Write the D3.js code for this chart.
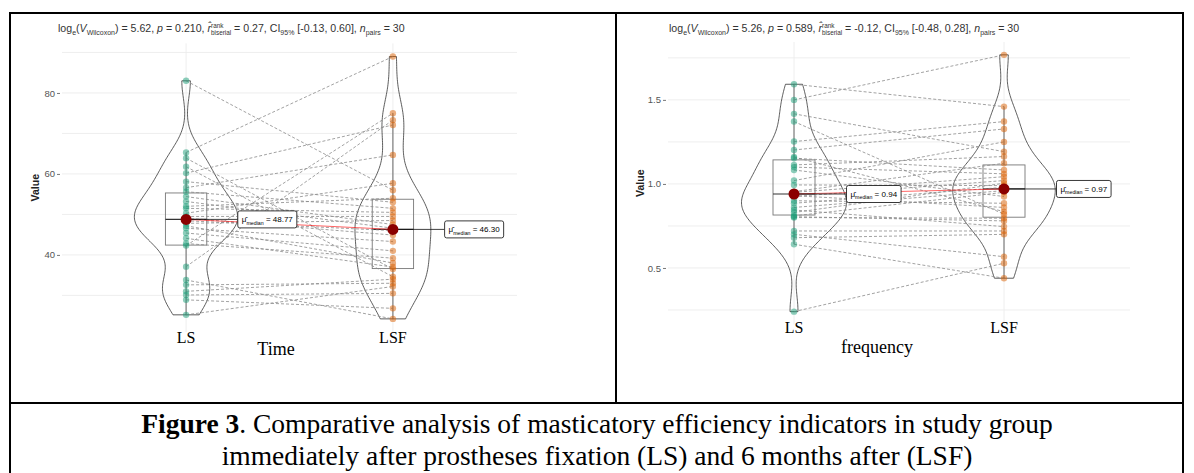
<!DOCTYPE html>
<html>
<head>
<meta charset="utf-8">
<title>Figure 3 - paired violin plots</title>
<style>
  body { margin: 0; background: #fff; }
  svg text { font-family: "Liberation Sans", Arial, sans-serif; white-space: pre; }
  svg text.serif { font-family: "Liberation Serif", "Times New Roman", serif; }
</style>
</head>
<body>
<svg width="1194" height="473"></svg>
<script src="https://d3js.org/d3.v7.min.js"></script>
<script>

// categories
var groups = ["LS", "LSF"];

// Time panel, paired values (same subject order in both arrays)
var timeLS  = [83.0, 65.3, 63.9, 61.8, 60.2, 58.1, 56.6, 55.6, 54.4, 53.2,
               52.0, 51.5, 50.3, 49.5, 49.1, 48.44, 47.8, 47.2, 46.6, 45.4,
               44.1, 42.8, 42.3, 37.1, 33.8, 32.6, 31.0, 30.1, 28.9, 25.2];
var timeLSF = [56.0, 89.0, 36.5, 34.6, 72.1, 53.0, 64.7, 51.5, 47.5, 46.6,
               54.0, 50.5, 57.7, 49.5, 44.9, 46.0, 48.5, 38.0, 43.3, 41.0,
               37.0, 39.2, 75.0, 73.3, 24.2, 33.0, 34.0, 30.5, 26.8, 32.2];

// frequency panel, paired values
var freqLS  = [1.593, 1.50, 1.417, 1.371, 1.252, 1.202, 1.16, 1.153, 1.113, 1.10,
               1.083, 1.02, 0.994, 0.954, 0.95, 0.93, 0.925, 0.90, 0.885, 0.86,
               0.845, 0.83, 0.81, 0.805, 0.80, 0.72, 0.70, 0.68, 0.641, 0.24];
var freqLSF = [1.46, 1.768, 1.192, 0.82, 1.371, 1.327, 0.835, 1.083, 1.163, 1.06,
               0.925, 1.25, 0.99, 1.123, 1.043, 0.86, 1.02, 0.885, 0.98, 0.96,
               0.746, 1.004, 0.95, 0.78, 0.796, 0.72, 0.567, 0.70, 0.439, 0.528];

// tick labels
var timeTicks = [40, 60, 80];
var freqTicks = [0.5, 1.0, 1.5];

// median labels and test statistics printed in the subtitles
var timeMedianLabels = ["48.77", "46.30"];
var freqMedianLabels = ["0.94", "0.97"];
var timeStats = ["5.62", "0.210", "0.27", "[-0.13, 0.60]", "30"];
var freqStats = ["5.26", "0.589", "-0.12", "[-0.48, 0.28]", "30"];
var xTitles = ["Time", "frequency"];

var colors = ["#1B9E77", "#D95F02"];

var svg = d3.select("svg");
svg.append("rect").attr("width", 1194).attr("height", 473).attr("fill", "#fff");

// write a line of text made of pieces (italic, subscript, stacked sup/sub)
function rich(parent, x, y, pieces, fs) {
  var cx = x;
  pieces.forEach(function(pc) {
    if (pc.stack) {
      var a = parent.append("text").attr("x", cx).attr("y", y - fs * 0.42)
        .attr("font-size", fs * 0.6).text(pc.stack[0]);
      var b = parent.append("text").attr("x", cx).attr("y", y + fs * 0.3)
        .attr("font-size", fs * 0.6).text(pc.stack[1]);
      cx += Math.max(a.node().getComputedTextLength(), b.node().getComputedTextLength());
      return;
    }
    var t = parent.append("text")
      .attr("x", cx)
      .attr("y", y + (pc.sub ? fs * 0.3 : 0))
      .attr("font-size", pc.sub ? fs * 0.66 : fs)
      .attr("font-style", pc.it ? "italic" : null)
      .text(pc.t);
    cx += t.node().getComputedTextLength();
  });
  return cx - x;
}

function violinData(vals) {
  var s = vals.slice().sort(d3.ascending);
  var n = s.length;
  var sd = d3.deviation(s);
  var iqr = d3.quantile(s, 0.75) - d3.quantile(s, 0.25);
  var bw = 0.9 * Math.min(sd, iqr / 1.34) * Math.pow(n, -0.2);
  var lo = s[0], hi = s[n - 1];
  return d3.range(160).map(function(i) {
    var v = lo + (hi - lo) * i / 159;
    var dens = d3.mean(s, function(d) { var u = (v - d) / bw; return Math.exp(-0.5 * u * u); })
      / (bw * Math.sqrt(2 * Math.PI));
    return {v: v, d: dens};
  });
}

var panels = [
  {ls: timeLS, lsf: timeLSF, ticks: timeTicks, minor: 10, fmt: d3.format("d"),
   labels: timeMedianLabels, stats: timeStats, xTitle: xTitles[0],
   x0: 62, x1: 517, top: 43.4, bottom: 332, subX: 58, yTitleX: 39,
   tickY: 343, titleY: 355, titleX: 276},
  {ls: freqLS, lsf: freqLSF, ticks: freqTicks, minor: 0.25, fmt: d3.format(".1f"),
   labels: freqMedianLabels, stats: freqStats, xTitle: xTitles[1],
   x0: 668, x1: 1130, top: 42, bottom: 324.5, subX: 669, yTitleX: 644,
   tickY: 333, titleY: 353, titleX: 877}
];

panels.forEach(function(p) {
  var g = svg.append("g");
  var all = p.ls.concat(p.lsf);
  var ext = d3.extent(all);
  var pad = (ext[1] - ext[0]) * 0.05;
  var y = d3.scaleLinear().domain([ext[0] - pad, ext[1] + pad]).range([p.bottom, p.top]);
  var x = d3.scalePoint().domain(groups).range([p.x0, p.x1]).padding(0.6);
  var step = x.step();
  var series = [p.ls, p.lsf];

  // grid
  var minors = d3.range(Math.ceil(y.domain()[0] / p.minor) * p.minor, y.domain()[1], p.minor);
  g.selectAll(".gy").data(minors).enter().append("line")
    .attr("x1", p.x0).attr("x2", p.x1)
    .attr("y1", function(d) { return y(d); }).attr("y2", function(d) { return y(d); })
    .attr("stroke", "#ececec").attr("stroke-width", 0.9);
  g.selectAll(".gx").data(groups).enter().append("line")
    .attr("x1", function(d) { return x(d); }).attr("x2", function(d) { return x(d); })
    .attr("y1", p.top).attr("y2", p.bottom)
    .attr("stroke", "#ececec").attr("stroke-width", 0.9);

  // y axis
  var ax = g.append("g").attr("transform", "translate(" + (p.x0 - 2) + ",0)")
    .call(d3.axisLeft(y).tickValues(p.ticks).tickFormat(p.fmt).tickSize(3).tickPadding(2));
  ax.select(".domain").remove();
  ax.selectAll("line").attr("stroke", "#777");
  ax.selectAll("text").attr("font-size", 9.5).attr("fill", "#555");

  g.append("text")
    .attr("transform", "translate(" + p.yTitleX + "," + ((p.top + p.bottom) / 2) + ") rotate(-90)")
    .attr("text-anchor", "middle").attr("font-size", 10.5).attr("font-weight", "bold")
    .attr("fill", "#222").text("Value");

  // violins (area scaled, width 0.5)
  var vd = series.map(violinData);
  var maxD = d3.max(vd, function(a) { return d3.max(a, function(d) { return d.d; }); });
  vd.forEach(function(a, i) {
    var cx = x(groups[i]);
    var area = d3.area()
      .y(function(d) { return y(d.v); })
      .x0(function(d) { return cx - d.d / maxD * 0.25 * step; })
      .x1(function(d) { return cx + d.d / maxD * 0.25 * step; });
    g.append("path").attr("d", area(a)).attr("fill", "none")
      .attr("stroke", "#333").attr("stroke-width", 0.8);
  });

  // boxes
  series.forEach(function(vals, i) {
    var s = vals.slice().sort(d3.ascending);
    var q1 = d3.quantile(s, 0.25), q3 = d3.quantile(s, 0.75), med = d3.median(s);
    var iqr = q3 - q1;
    var hiW = d3.max(s.filter(function(v) { return v <= q3 + 1.5 * iqr; }));
    var loW = d3.min(s.filter(function(v) { return v >= q1 - 1.5 * iqr; }));
    var cx = x(groups[i]), hw = 0.1 * step;
    g.append("line").attr("x1", cx).attr("x2", cx).attr("y1", y(q3)).attr("y2", y(hiW))
      .attr("stroke", "#555").attr("stroke-width", 0.9);
    g.append("line").attr("x1", cx).attr("x2", cx).attr("y1", y(q1)).attr("y2", y(loW))
      .attr("stroke", "#555").attr("stroke-width", 0.9);
    g.append("rect").attr("x", cx - hw).attr("width", 2 * hw)
      .attr("y", y(q3)).attr("height", y(q1) - y(q3))
      .attr("fill", "none").attr("stroke", "#777").attr("stroke-width", 0.9);
    g.append("line").attr("x1", cx - hw).attr("x2", cx + hw).attr("y1", y(med)).attr("y2", y(med))
      .attr("stroke", "#333").attr("stroke-width", 1.2);
  });

  // paired lines
  g.selectAll(".pair").data(d3.range(p.ls.length)).enter().append("line")
    .attr("x1", x(groups[0])).attr("x2", x(groups[1]))
    .attr("y1", function(i) { return y(p.ls[i]); })
    .attr("y2", function(i) { return y(p.lsf[i]); })
    .attr("stroke", "#8a8a8a").attr("stroke-width", 0.8).attr("stroke-dasharray", "3,2");

  // points
  series.forEach(function(vals, i) {
    g.selectAll(".pt" + i).data(vals).enter().append("circle")
      .attr("cx", x(groups[i])).attr("cy", function(d) { return y(d); })
      .attr("r", 3.2).attr("fill", colors[i]).attr("fill-opacity", 0.5);
  });

  // median line between groups
  var meds = series.map(function(v) { return d3.median(v); });
  g.append("line").attr("x1", x(groups[0])).attr("x2", x(groups[1]))
    .attr("y1", y(meds[0])).attr("y2", y(meds[1]))
    .attr("stroke", "red").attr("stroke-opacity", 0.6).attr("stroke-width", 1);

  // label segments, centrality points and labels
  meds.forEach(function(m, i) {
    var cx = x(groups[i]), lx = cx + 0.25 * step, cy = y(m);
    g.append("line").attr("x1", cx).attr("x2", lx).attr("y1", cy).attr("y2", cy)
      .attr("stroke", "#111").attr("stroke-width", 0.8);
    g.append("circle").attr("cx", cx).attr("cy", cy).attr("r", 5.5).attr("fill", "#8B0000");
    var lg = g.append("g");
    var box = lg.append("rect");
    var w = rich(lg, lx + 4, cy + 3, [
      {t: "\u03BC\u0302"}, {t: "median", sub: 1}, {t: " = " + p.labels[i]}
    ], 8);
    box.attr("x", lx).attr("y", cy - 8.5).attr("width", w + 8).attr("height", 17)
      .attr("rx", 2).attr("fill", "#fff").attr("stroke", "#222").attr("stroke-width", 0.9);
  });

  // x tick labels and title
  groups.forEach(function(gname) {
    svg.append("text").attr("class", "serif").attr("x", x(gname)).attr("y", p.tickY)
      .attr("text-anchor", "middle").attr("font-size", 16).attr("fill", "#000").text(gname);
  });
  svg.append("text").attr("class", "serif").attr("x", p.titleX).attr("y", p.titleY)
    .attr("text-anchor", "middle").attr("font-size", 18).attr("fill", "#000").text(p.xTitle);

  // subtitle
  var s = p.stats;
  var sg = svg.append("g").attr("fill", "#333");
  rich(sg, p.subX, 32, [
    {t: "log"}, {t: "e", sub: 1}, {t: "("}, {t: "V", it: 1}, {t: "Wilcoxon", sub: 1},
    {t: ") = " + s[0] + ", "}, {t: "p", it: 1}, {t: " = " + s[1] + ", "},
    {t: "r\u0302", it: 1}, {stack: ["rank", "biserial"]},
    {t: " = " + s[2] + ", CI"}, {t: "95%", sub: 1}, {t: " " + s[3] + ", "},
    {t: "n", it: 1}, {t: "pairs", sub: 1}, {t: " = " + s[4]}
  ], 10.6);
});

// table borders
var bc = svg.append("g").attr("stroke", "#000").attr("stroke-width", 2);
bc.append("line").attr("x1", 10).attr("x2", 10).attr("y1", 12).attr("y2", 473);
bc.append("line").attr("x1", 1183).attr("x2", 1183).attr("y1", 12).attr("y2", 473);
bc.append("line").attr("x1", 9).attr("x2", 1184).attr("y1", 13).attr("y2", 13);
bc.append("line").attr("x1", 616).attr("x2", 616).attr("y1", 13).attr("y2", 403);
bc.append("line").attr("x1", 9).attr("x2", 1184).attr("y1", 403).attr("y2", 403);

// caption
var cap = svg.append("g").attr("font-size", 27.5).attr("fill", "#000");
var c1 = cap.append("text").attr("class", "serif").attr("x", 597).attr("y", 433).attr("text-anchor", "middle");
c1.append("tspan").attr("font-weight", "bold").text("Figure 3");
c1.append("tspan").text(". Comparative analysis of masticatory efficiency indicators in study group");
cap.append("text").attr("class", "serif").attr("x", 597).attr("y", 465).attr("text-anchor", "middle")
  .text("immediately after prostheses fixation (LS) and 6 months after (LSF)");

</script>
</body>
</html>
